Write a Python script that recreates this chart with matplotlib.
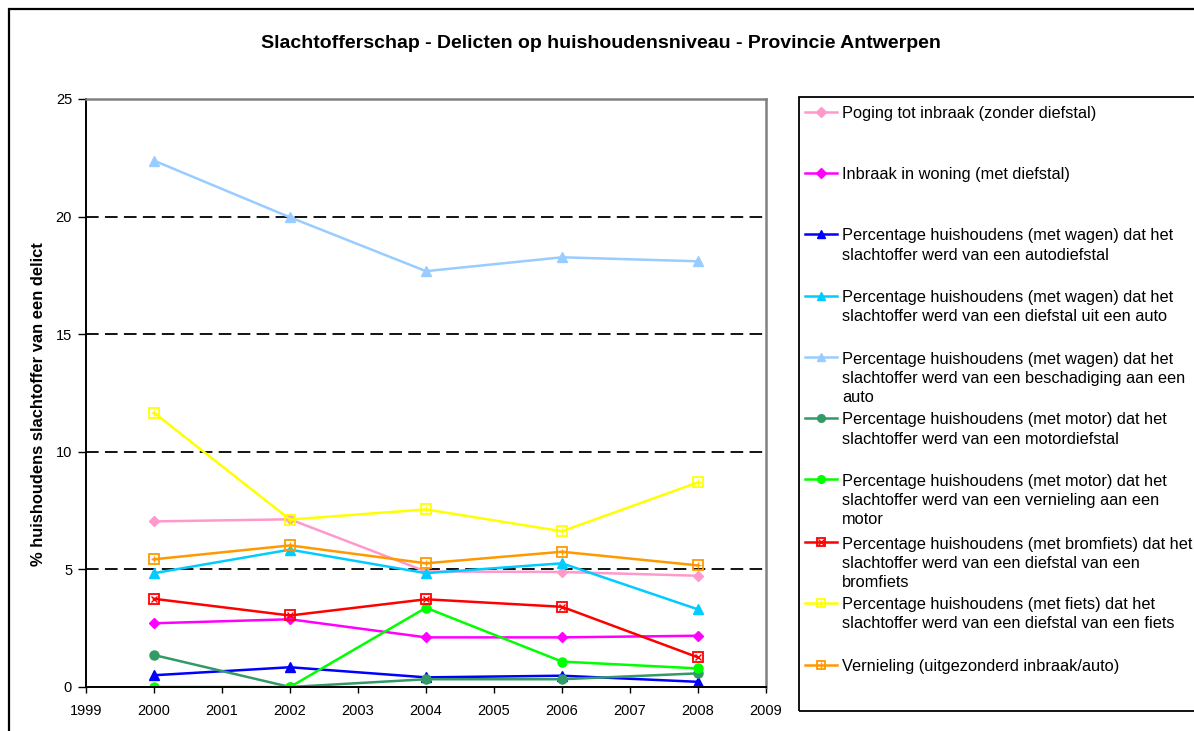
import matplotlib
matplotlib.use("Agg")
import matplotlib.pyplot as plt
from matplotlib.lines import Line2D
from matplotlib.patches import Rectangle

plt.rcParams['font.family'] = ['Liberation Sans', 'DejaVu Sans']

years = [2000, 2002, 2004, 2006, 2008]

labels = [
    "Poging tot inbraak (zonder diefstal)",
    "Inbraak in woning (met diefstal)",
    "Percentage huishoudens (met wagen) dat het\nslachtoffer werd van een autodiefstal",
    "Percentage huishoudens (met wagen) dat het\nslachtoffer werd van een diefstal uit een auto",
    "Percentage huishoudens (met wagen) dat het\nslachtoffer werd van een beschadiging aan een\nauto",
    "Percentage huishoudens (met motor) dat het\nslachtoffer werd van een motordiefstal",
    "Percentage huishoudens (met motor) dat het\nslachtoffer werd van een vernieling aan een\nmotor",
    "Percentage huishoudens (met bromfiets) dat het\nslachtoffer werd van een diefstal van een\nbromfiets",
    "Percentage huishoudens (met fiets) dat het\nslachtoffer werd van een diefstal van een fiets",
    "Vernieling (uitgezonderd inbraak/auto)",
]

poging = [7.04, 7.13, 4.91, 4.89, 4.73]
inbraak = [2.71, 2.88, 2.11, 2.11, 2.18]
autodiefstal = [0.50, 0.84, 0.41, 0.48, 0.22]
uit_auto = [4.84, 5.84, 4.84, 5.26, 3.30]
beschadiging = [22.38, 19.97, 17.68, 18.27, 18.10]
motordiefstal = [1.36, 0.0, 0.33, 0.33, 0.58]
vernieling_motor = [0.0, 0.0, 3.37, 1.08, 0.79]
bromfiets = [3.75, 3.04, 3.73, 3.41, 1.26]
fiets = [11.66, 7.12, 7.55, 6.62, 8.70]
vernieling = [5.43, 6.02, 5.26, 5.75, 5.17]

series = [poging, inbraak, autodiefstal, uit_auto, beschadiging,
          motordiefstal, vernieling_motor, bromfiets, fiets, vernieling]
colors = ["#FF99CC", "#FF00FF", "#0000FF", "#00CCFF", "#99CCFF",
          "#339966", "#00FF00", "#FF0000", "#FFFF00", "#FF9900"]
markers = ["D", "D", "^", "^", "^", "o", "o", "sx", "s+", "s+"]

xticks = list(range(1999, 2010))
yticks = [0, 5, 10, 15, 20, 25]

W, H = 1194, 731
fig = plt.figure(figsize=(W / 100, H / 100), dpi=100)

def fx(px):
    return px / W

def fy(py):
    return 1 - py / H

ax = fig.add_axes([fx(86), fy(687), fx(766) - fx(86), fy(99) - fy(687)])

def add(target, artist):
    if hasattr(target, 'add_line'):
        target.add_line(artist)
    else:
        target.add_artist(artist)

def draw_series(target, xs, ys, color, mk, transform=None, markevery=None, small=False):
    kw = {}
    if transform is not None:
        kw['transform'] = transform
        kw['clip_on'] = False
    if markevery is not None:
        kw['markevery'] = markevery
    f = 0.85 if small else 1.0
    if mk in ("D", "^", "o"):
        ms = {"D": 5.5, "^": 6.5, "o": 6.5}[mk] * f
        add(target, Line2D(xs, ys, color=color, lw=1.8, marker=mk, ms=ms,
                           mfc=color, mec=color, **kw))
    else:
        inner = mk[1]
        add(target, Line2D(xs, ys, color=color, lw=1.8, marker="s", ms=7 * f,
                           mfc="none", mec=color, mew=1.3, **kw))
        add(target, Line2D(xs, ys, color=color, lw=0, marker=inner, ms=5 * f,
                           mec=color, mew=1.0, **kw))

for ys, c, m in zip(series, colors, markers):
    draw_series(ax, years, ys, c, m)

ax.set_xlim(1999, 2009)
ax.set_ylim(0, 25)
ax.set_xticks(xticks)
ax.set_yticks(yticks)
ax.tick_params(axis='both', labelsize=10.5, direction='out', width=1, color='black')
ax.tick_params(axis='x', length=4, pad=8)
ax.tick_params(axis='y', length=6, pad=4)
for g in [5, 10, 15, 20]:
    ax.axhline(g, color='black', lw=1.3, dashes=(7, 3.5), zorder=0.5)
for s in ['left', 'bottom']:
    ax.spines[s].set_color('black')
    ax.spines[s].set_linewidth(1.4)
for s in ['top', 'right']:
    ax.spines[s].set_color('#808080')
    ax.spines[s].set_linewidth(1.8)

fig.text(fx(39), fy(404), "% huishoudens slachtoffer van een delict", rotation=90,
         ha='center', va='center', fontsize=11.9, fontweight='bold')

fig.text(fx(601), fy(44), "Slachtofferschap - Delicten op huishoudensniveau - Provincie Antwerpen",
         ha='center', va='center', fontsize=14.0, fontweight='bold')

# outer border (left and top edges visible, right/bottom run past the image)
fig.add_artist(Rectangle((fx(9), fy(745)), fx(1220) - fx(9), fy(9) - fy(745),
                         transform=fig.transFigure, fill=False, ec='black', lw=1.6,
                         clip_on=False))

# legend box
fig.add_artist(Rectangle((fx(799), fy(711)), fx(1220) - fx(799), fy(97) - fy(711),
                         transform=fig.transFigure, fill=False, ec='black', lw=1.3,
                         clip_on=False))

line_px = 19.5
entry_y = [112, 173, 234, 296, 357, 418, 479, 542, 603, 665]
for lab, c, m, py in zip(labels, colors, markers, entry_y):
    draw_series(fig, [fx(805), fx(821), fx(837)], [fy(py)] * 3, c, m,
                transform=fig.transFigure, markevery=[1], small=True)
    nlines = lab.count("\n") + 1
    fig.text(fx(842), fy(py + 6 + (nlines - 1) * line_px), lab, ha='left',
             va='baseline', fontsize=11.8, linespacing=1.345)

fig.savefig("out.png", dpi=100)
